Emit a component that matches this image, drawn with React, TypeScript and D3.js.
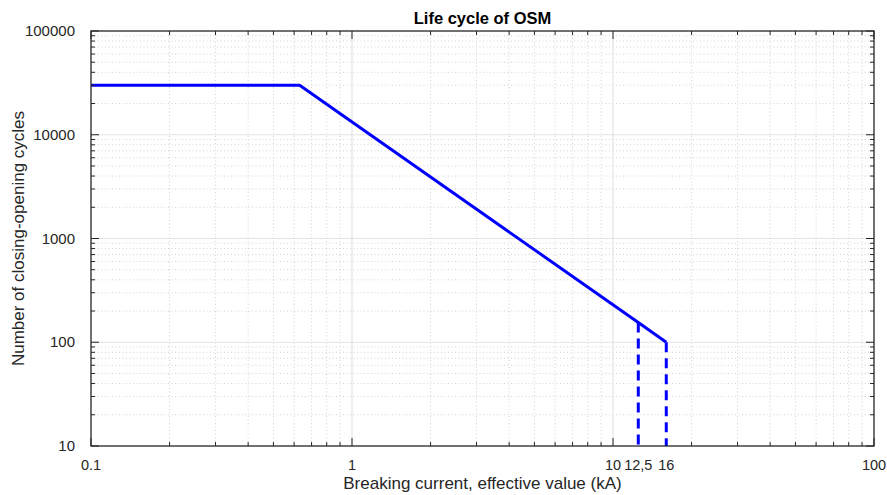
import React from 'react'
import * as d3 from 'd3'

// breaking current (kA) vs closing-opening cycles
const currentKA = [0.1, 0.63, 12.5, 16]
const cycles = [30000, 30000, 155, 100]
const markerKA = [12.5, 16]
const markerCycles = [155, 100]
const xTicks = [0.1, 1, 10, 12.5, 16, 100]
const xTickLabels = ['0.1', '1', '10', '12,5', '16', '100']
const yTicks = [10, 100, 1000, 10000, 100000]

const W = 887
const H = 495
const m = { left: 91, right: 13, top: 31, bottom: 49 }

function minors(lo: number, hi: number) {
  const out: number[] = []
  for (let d = lo; d < hi; d *= 10) {
    for (let k = 2; k <= 9; k++) out.push(d * k)
  }
  return out
}

export default function App() {
  const x = d3.scaleLog().domain([0.1, 100]).range([m.left, W - m.right])
  const y = d3.scaleLog().domain([10, 100000]).range([H - m.bottom, m.top])
  const x0 = m.left, x1 = W - m.right, y0 = H - m.bottom, y1 = m.top
  const xMinor = minors(0.1, 100)
  const yMinor = minors(10, 100000)
  const xDecades = [0.1, 1, 10, 100]
  const xMajorGrid = [1, 10]
  const yMajorGrid = [100, 1000, 10000]

  const line = d3.line<number>()
    .x((_, i) => x(currentKA[i]))
    .y(d => y(d))

  const font = 'Liberation Sans, Arial, Helvetica, sans-serif'
  const tickCol = '#262626'

  return (
    <svg width={W} height={H} style={{ position: 'absolute', left: 0, top: 0, background: '#fff' }}>
      <rect x={0} y={0} width={W} height={H} fill="#fff" />
      {/* minor grid */}
      {xMinor.map((v, i) => (
        <line key={'xm' + i} x1={x(v)} x2={x(v)} y1={y1} y2={y0} stroke="#c8c8c8" strokeWidth={0.8} strokeDasharray="1,2.5" />
      ))}
      {yMinor.map((v, i) => (
        <line key={'ym' + i} x1={x0} x2={x1} y1={y(v)} y2={y(v)} stroke="#c8c8c8" strokeWidth={0.8} strokeDasharray="1,2.5" />
      ))}
      {/* major grid */}
      {xMajorGrid.map((v, i) => (
        <line key={'xg' + i} x1={x(v)} x2={x(v)} y1={y1} y2={y0} stroke="#e3e3e3" strokeWidth={1.2} />
      ))}
      {yMajorGrid.map((v, i) => (
        <line key={'yg' + i} x1={x0} x2={x1} y1={y(v)} y2={y(v)} stroke="#e3e3e3" strokeWidth={1.2} />
      ))}

      {/* data */}
      <path d={line(cycles) || ''} fill="none" stroke="#0000ff" strokeWidth={3} strokeLinejoin="round" />
      {markerKA.map((v, i) => (
        <line key={'mk' + i} x1={x(v)} x2={x(v)} y1={y(markerCycles[i])} y2={y0} stroke="#0000ff" strokeWidth={3} strokeDasharray="10,6" />
      ))}

      {/* axes box */}
      <rect x={x0} y={y1} width={x1 - x0} height={y0 - y1} fill="none" stroke={tickCol} strokeWidth={1.3} />
      {/* ticks */}
      {xMinor.map((v, i) => (
        <g key={'xt' + i} stroke={tickCol} strokeWidth={1}>
          <line x1={x(v)} x2={x(v)} y1={y0} y2={y0 - 4} />
          <line x1={x(v)} x2={x(v)} y1={y1} y2={y1 + 4} />
        </g>
      ))}
      {xDecades.map((v, i) => (
        <g key={'xT' + i} stroke={tickCol} strokeWidth={1}>
          <line x1={x(v)} x2={x(v)} y1={y0} y2={y0 - 8} />
          <line x1={x(v)} x2={x(v)} y1={y1} y2={y1 + 8} />
        </g>
      ))}
      {yMinor.map((v, i) => (
        <g key={'yt' + i} stroke={tickCol} strokeWidth={1}>
          <line x1={x0} x2={x0 + 4} y1={y(v)} y2={y(v)} />
          <line x1={x1} x2={x1 - 4} y1={y(v)} y2={y(v)} />
        </g>
      ))}
      {yTicks.map((v, i) => (
        <g key={'yT' + i} stroke={tickCol} strokeWidth={1}>
          <line x1={x0} x2={x0 + 8} y1={y(v)} y2={y(v)} />
          <line x1={x1} x2={x1 - 8} y1={y(v)} y2={y(v)} />
        </g>
      ))}

      {/* tick labels */}
      {xTicks.map((v, i) => (
        <text key={'xl' + i} x={x(v)} y={y0 + 24} textAnchor="middle" fontFamily={font} fontSize={14.5} fill={tickCol}>
          {xTickLabels[i]}
        </text>
      ))}
      {yTicks.map((v, i) => (
        <text key={'yl' + i} x={x0 - 16} y={y(v) + 5} textAnchor="end" fontFamily={font} fontSize={15} fill={tickCol}>
          {d3.format('d')(v)}
        </text>
      ))}

      <text x={(x0 + x1) / 2} y={24} textAnchor="middle" fontFamily={font} fontSize={16.5} fontWeight="bold" fill="#000">
        Life cycle of OSM
      </text>
      <text x={(x0 + x1) / 2} y={489} textAnchor="middle" fontFamily={font} fontSize={17} fill={tickCol}>
        Breaking current, effective value (kA)
      </text>
      <text transform={`translate(24,${(y0 + y1) / 2}) rotate(-90)`} textAnchor="middle" fontFamily={font} fontSize={17} fill={tickCol}>
        Number of closing-opening cycles
      </text>
    </svg>
  )
}
